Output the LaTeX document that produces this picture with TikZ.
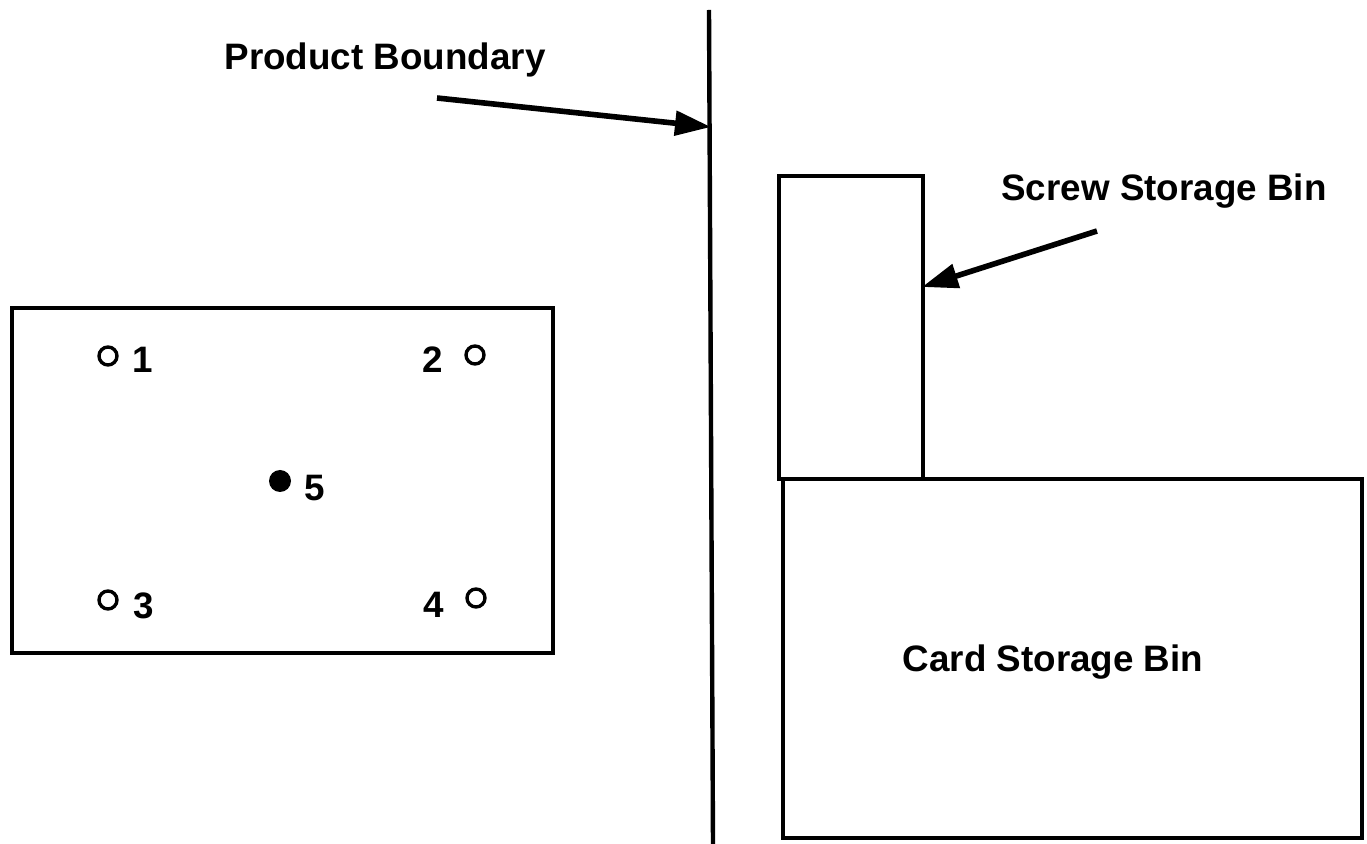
\documentclass[tikz,border=0pt]{standalone}
\usepackage{fontspec}
\setmainfont{Liberation Sans}
\usetikzlibrary{arrows.meta}
\begin{document}
\begin{tikzpicture}[x=0.5pt,y=-0.5pt,
  outline/.style={draw, line width=2.2pt, inner sep=0pt, anchor=north west},
  lbl/.style={font=\fontsize{18.4}{22}\selectfont\bfseries, inner sep=0pt},
  ptr/.style={line width=2.8pt, -{Triangle[length=18pt,width=12pt]}},
  hole/.style={circle, draw, line width=1.7pt, minimum size=9pt, inner sep=0pt},
  pin/.style={circle, fill, minimum size=11pt, inner sep=0pt}]
\useasboundingbox (0,0) rectangle (1367,844);
% plate
\node[outline, minimum width=270.5pt, minimum height=172.5pt] (plate) at (10,306) {};
\node[hole] (h1) at (108,356) {};
\node[lbl] (n1) at (143,360) {1};
\node[hole] (h2) at (475,355) {};
\node[lbl] (n2) at (433,360) {2};
\node[hole] (h3) at (108,600) {};
\node[lbl] (n3) at (144,606) {3};
\node[hole] (h4) at (476,598) {};
\node[lbl] (n4) at (434,605) {4};
\node[pin] (h5) at (280,481) {};
\node[lbl] (n5) at (315,488) {5};
% product boundary
\coordinate (bt) at (709,10);
\coordinate (bb) at (713,844);
\draw[line width=2.2pt] (bt) -- (bb);
\node[lbl] (pb) at (385,60) {Product Boundary};
\coordinate (pbs) at (437,98);
\coordinate (pbe) at (711,127);
\draw[ptr] (pbs) -- (pbe);
% bins
\node[outline, minimum width=72pt, minimum height=151.5pt] (screw) at (777,174) {};
\node[outline, minimum width=289.5pt, minimum height=179.5pt] (card) at (781,477) {};
\node[lbl] (sl) at (1164,191) {Screw Storage Bin};
\coordinate (sbs) at (1097,231);
\coordinate (sbe) at (922,287);
\draw[ptr] (sbs) -- (sbe);
\node[lbl] (cl) at (1053,662) {Card Storage Bin};
\end{tikzpicture}
\end{document}
